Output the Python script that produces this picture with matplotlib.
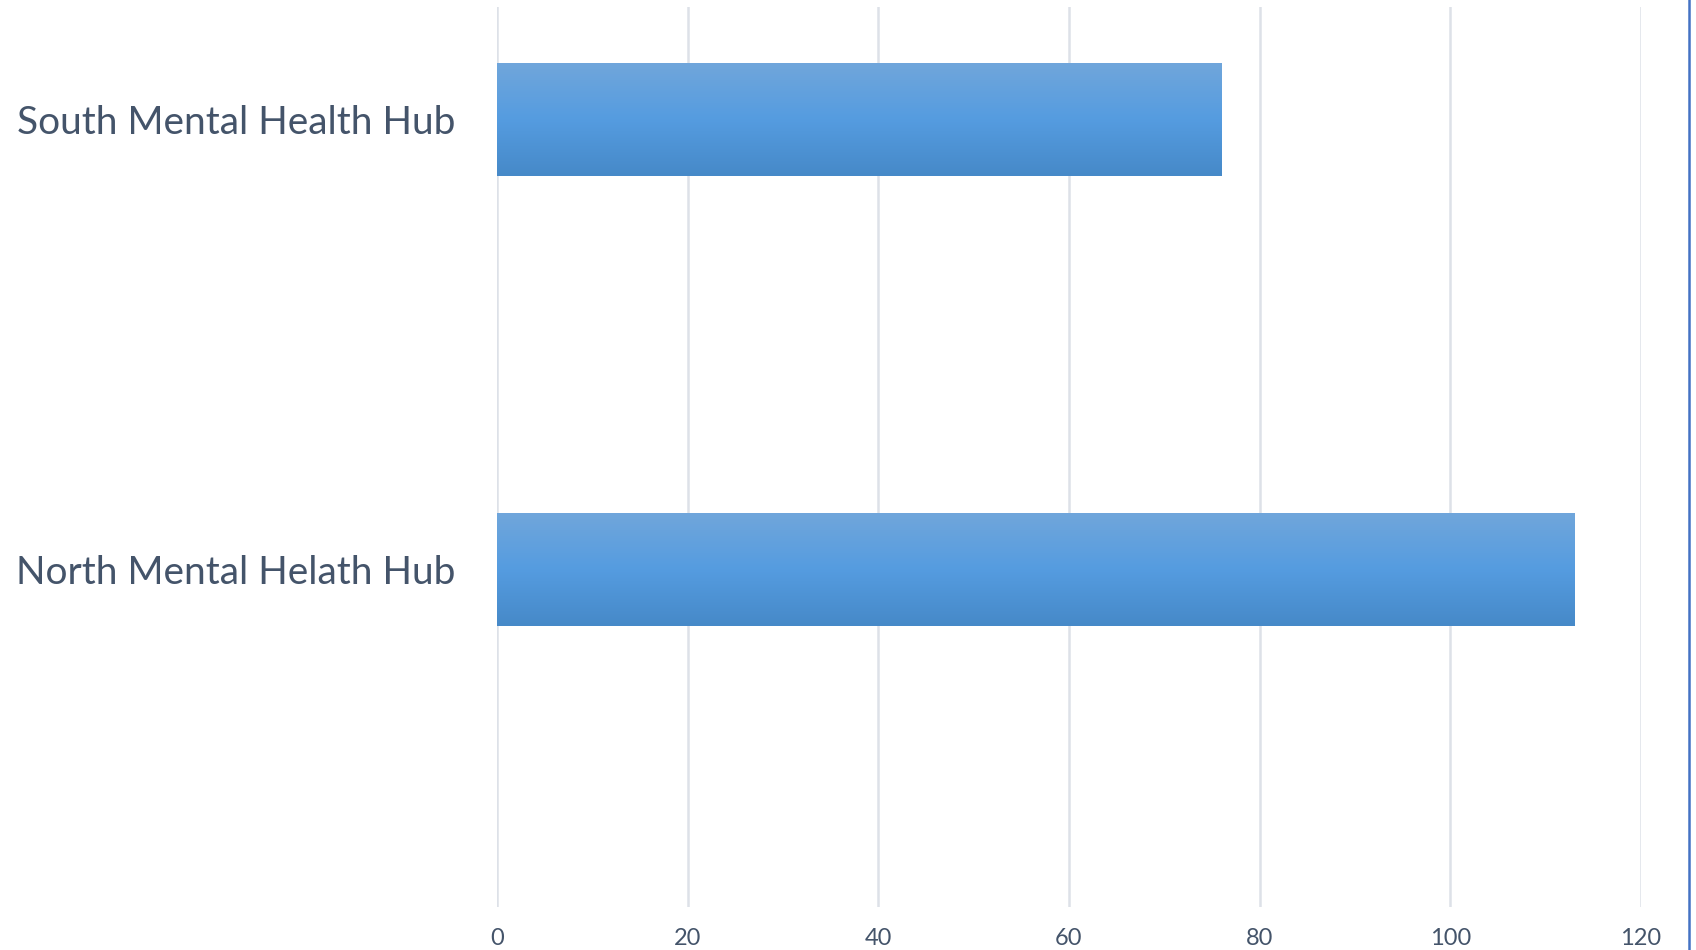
import matplotlib
matplotlib.use("Agg")
import matplotlib.pyplot as plt
import numpy as np
from matplotlib.colors import LinearSegmentedColormap
from matplotlib.lines import Line2D

categories = ["South Mental Health Hub", "North Mental Helath Hub"]
values = [76, 113]
x_ticks = [0, 20, 40, 60, 80, 100, 120]

TEXT = "#44546A"
GRID = "#DDE1E8"

fig = plt.figure(figsize=(16.96, 9.5), dpi=100)
ax = fig.add_axes([497/1696, 1 - 907/950, (1641 - 497)/1696, 900/950])

cmap = LinearSegmentedColormap.from_list(
    "grad", [(0.0, "#70A6DB"), (0.5, "#559CE0"), (1.0, "#4689C8")])
grad = np.linspace(0, 1, 256).reshape(-1, 1)

bar_h = 0.25
offset = -0.25
pos = [i + offset for i in range(len(categories))]
for p, v in zip(pos, values):
    ax.imshow(grad, cmap=cmap, aspect="auto", origin="upper",
              extent=(0, v, p + bar_h/2, p - bar_h/2), zorder=3,
              interpolation="bilinear")

ax.set_xlim(0, 120)
ax.set_ylim(len(categories) - 0.5, -0.5)
ax.set_aspect("auto")

ax.set_xticks(x_ticks)
ax.set_xticklabels([str(t) for t in x_ticks])
ax.set_yticks(pos)
ax.set_yticklabels(categories)

ax.grid(axis="x", color=GRID, linewidth=1.8)
ax.set_axisbelow(True)
for s in ax.spines.values():
    s.set_visible(False)
ax.tick_params(axis="both", length=0)
ax.tick_params(axis="x", labelsize=17, labelcolor=TEXT, pad=15)
ax.tick_params(axis="y", labelsize=28, labelcolor=TEXT, pad=30)
for lbl in ax.get_xticklabels() + ax.get_yticklabels():
    lbl.set_fontfamily("Lato")

fig.add_artist(Line2D([1688.5/1696, 1688.5/1696], [0, 1], color="#4472C4",
                      linewidth=1.8, transform=fig.transFigure))

fig.savefig("out.png", dpi=100, facecolor="white")
